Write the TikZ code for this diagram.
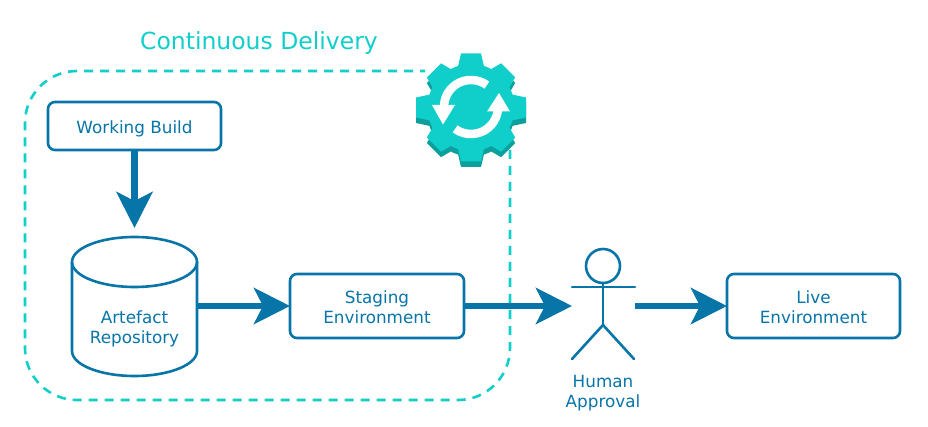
\documentclass[tikz,border=0pt]{standalone}
\usepackage{fontspec}
\setmainfont{DejaVu Sans}
\usetikzlibrary{arrows.meta}
\definecolor{ink}{HTML}{0875A8}
\definecolor{teal}{HTML}{10CFCB}
\definecolor{tealdark}{HTML}{0C9F9B}
\newcommand{\lowered}[2]{\raisebox{-#1pt}[\height][\depth]{#2}}
\tikzset{
  box/.style={draw=ink,line width=2.6pt,rounded corners=7pt,fill=white,inner sep=0pt,outer sep=0pt,
    text=ink,align=center,font=\fontsize{16.8}{20}\selectfont},
  txt/.style={text=ink,align=center,inner sep=0pt,font=\fontsize{16.8}{20}\selectfont},
  ghost/.style={inner sep=0pt,outer sep=0pt},
  flow/.style={draw=ink,line width=6.5pt,-{Stealth[length=36pt,width=36pt,inset=9pt]}},
  limb/.style={draw=ink,line width=2.6pt,line cap=round},
  cyl/.style={draw=ink,line width=2.6pt},
  dashbox/.style={draw=teal,line width=2.6pt,dash pattern=on 9pt off 7pt},
  spin/.style={draw=white,line width=8.5pt},
  spinhead/.style={fill=white}
}
\newcommand{\gearshape}[3]{%
  \fill[#1] (#2,#3) circle[radius=43.5];
  \foreach \a/\r in {0/54,45/52.5,90/55,135/52.5,180/54,225/52.5,270/55,315/52.5}{
    \fill[#1,rotate around={\a:(#2,#3)}] (#2-13,#3-41) -- (#2-10,#3-\r) -- (#2+10,#3-\r) -- (#2+13,#3-41) -- cycle;
  }
}
\begin{document}
\begin{tikzpicture}[x=1pt,y=-1pt]
\useasboundingbox (0,0) rectangle (928,427);
\fill[white] (0,0) rectangle (928,427);
% dashed frame
\draw[dashbox,rounded corners=52pt] (510,150) -- (510,400) -- (25,400) -- (25,71) -- (425,71);
% title
\node[text=teal,inner sep=0pt,font=\fontsize{23.5}{26}\selectfont] (title) at (259,43) {Continuous Delivery};
% gear
\gearshape{tealdark}{471}{113}
\gearshape{teal}{471}{107.5}
\draw[spin] plot[domain=54:178,samples=30] ({471+27*cos(\x)},{107-27*sin(\x)});
\fill[spinhead] (432,105) -- (443,124.5) -- (455,105) -- cycle;
\draw[spin] plot[domain=234:358,samples=30] ({471+27*cos(\x)},{107-27*sin(\x)});
\fill[spinhead] (487,111.5) -- (499,93) -- (510,111.5) -- cycle;
% nodes
\node[box,minimum width=173pt,minimum height=48pt] (build) at (134.5,126) {\lowered{2.5}{Working Build}};
\node[box,minimum width=174pt,minimum height=64pt] (staging) at (377,306) {\lowered{1}{Staging}\\\lowered{1}{Environment}};
\node[box,minimum width=173pt,minimum height=64pt] (live) at (813.5,306) {\lowered{1}{Live}\\\lowered{1}{Environment}};
\node[ghost,minimum width=125pt,minimum height=138pt] (repo) at (134.5,306) {};
\node[ghost,minimum width=63pt,minimum height=114pt] (actor) at (603.5,306) {};
% repository cylinder
\draw[cyl,fill=white] (repo.north west) ++(0,25)
  arc[start angle=180,end angle=0,x radius=62.5pt,y radius=25pt]
  -- ++(0,89) arc[start angle=0,end angle=-180,x radius=62.5pt,y radius=25pt] -- cycle;
\draw[cyl] (repo.north west) ++(0,25)
  arc[start angle=180,end angle=360,x radius=62.5pt,y radius=25pt];
\node[txt] (repotext) at (134.5,329) {Artefact\\Repository};
% actor
\node[draw=ink,line width=2.6pt,circle,minimum size=34pt,inner sep=0pt,outer sep=0pt] (head) at (603,266) {};
\coordinate (armL) at (572,287);
\coordinate (armR) at (635,287);
\coordinate (hip) at (603,325);
\coordinate (footL) at (572,359);
\coordinate (footR) at (634,359);
\draw[limb] (armL) -- (armR);
\draw[limb] (head.south) -- (hip);
\draw[limb] (footL) -- (hip) -- (footR);
\node[txt] (human) at (603,393) {Human\\Approval};
% connectors
\draw[flow,shorten >=9pt] (build.south) -- (repo.north);
\draw[flow] (repo.east) -- (staging.west);
\draw[flow] (staging.east) -- (actor.west);
\draw[flow] (actor.east) -- (live.west);
\end{tikzpicture}
\end{document}
